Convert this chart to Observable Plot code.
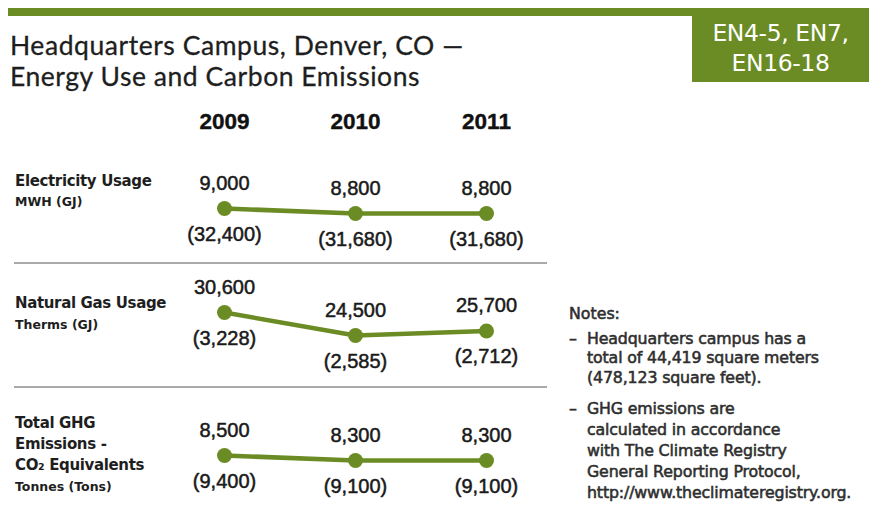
<!DOCTYPE html>
<html><head><meta charset="utf-8">
<script src="https://cdn.jsdelivr.net/npm/d3@7"></script>
<script src="https://cdn.jsdelivr.net/npm/@observablehq/plot@0.6"></script>
<style>
body{margin:0;background:#fff;}
#root{position:relative;width:869px;height:506px;overflow:hidden;font-family:Lato,"Noto Sans",sans-serif;color:#222;}
.abs{position:absolute;white-space:nowrap;}
.plot{position:absolute;left:0;}
.plot svg{overflow:visible;background:transparent;}
</style></head><body><div id="root"></div>
<script>
// ---- data ----
const years = [2009, 2010, 2011];
const rowLabels = [["Electricity Usage"], ["Natural Gas Usage"], ["Total GHG", "Emissions -", "CO₂ Equivalents"]];
const rowUnits = ["MWH (GJ)", "Therms (GJ)", "Tonnes (Tons)"];
const electricityMWH = [9000, 8800, 8800];
const electricityGJ = [32400, 31680, 31680];
const gasTherms = [30600, 24500, 25700];
const gasGJ = [3228, 2585, 2712];
const ghgTonnes = [8500, 8300, 8300];
const ghgTons = [9400, 9100, 9100];
const titleLines = ["Headquarters Campus, Denver, CO —", "Energy Use and Carbon Emissions"];
const badgeLines = ["EN4-5, EN7,", "EN16-18"];
const notesHeading = "Notes:";
const notes = [
  ["Headquarters campus has a", "total of 44,419 square meters", "(478,123 square feet)."],
  ["GHG emissions are", "calculated in accordance", "with The Climate Registry", "General Reporting Protocol,", "http://www.theclimateregistry.org."]
];

// ---- style / layout ----
const GREEN = "#6b8c24";
const root = document.getElementById("root");
function add(html, css) {
  const d = document.createElement("div");
  d.className = "abs";
  d.style.cssText = css;
  d.innerHTML = html;
  root.appendChild(d);
  return d;
}
// top bar and badge
add("", `left:8px;top:8px;right:0;height:8px;background:${GREEN};`);
add("", `left:692px;top:8px;width:177px;height:74px;background:${GREEN};`);
badgeLines.forEach((t, i) => add(t, `left:692px;width:177px;top:${18 + i * 30}px;height:30px;line-height:30px;text-align:center;color:#fff;font-family:'DejaVu Sans',sans-serif;font-size:23.5px;letter-spacing:-0.4px;`));
// title
titleLines.forEach((t, i) => add(t, `left:10px;top:${31 + i * 31}px;font-size:26.5px;line-height:28px;color:#1e1e1e;letter-spacing:0.55px;-webkit-text-stroke:0.3px #1e1e1e;`));

// separators
add("", `left:14px;top:262px;width:533px;height:2px;background:#a9a9a9;`);
add("", `left:14px;top:386px;width:533px;height:2px;background:#a9a9a9;`);

// row labels
const labelPos = [
  {lines: [181], unit: 202},
  {lines: [303], unit: 325},
  {lines: [423, 444, 465], unit: 487}
];
const labelFont = "font-family:'DejaVu Sans',sans-serif;font-weight:700;color:#1e1e1e;";
rowLabels.forEach((lines, i) => {
  lines.forEach((t, j) => add(t, `left:15px;top:${labelPos[i].lines[j] - 10}px;line-height:20px;font-size:15px;letter-spacing:-0.35px;${labelFont}`));
  add(rowUnits[i], `left:15px;top:${labelPos[i].unit - 8}px;line-height:16px;font-size:12.5px;letter-spacing:0px;${labelFont}`);
});

// notes
const notesFont = "font-family:'DejaVu Sans',sans-serif;color:#2e2e2e;font-size:15.8px;-webkit-text-stroke:0.55px #2e2e2e;";
add(notesHeading, `left:569px;top:304px;line-height:19px;${notesFont}`);
const noteTops = [329, 399];
const noteStep = [19.3, 21];
notes.forEach((lines, i) => {
  add("–", `left:569px;top:${noteTops[i]}px;line-height:19px;${notesFont}`);
  lines.forEach((t, j) => add(t, `left:587px;top:${noteTops[i] + j * noteStep[i]}px;line-height:19px;letter-spacing:-0.15px;${notesFont}`));
});

// ---- plots ----
const fmt = d3.format(",");
function rowPlot(values, sub, opts) {
  const data = years.map((year, i) => ({year, value: values[i], sub: sub[i]}));
  const numStyle = {fontSize: 20, fill: "#1a1a1a", stroke: "#1a1a1a", strokeWidth: 0.5, lineAnchor: "middle"};
  const marks = [
    Plot.line(data, {x: "year", y: "value", stroke: GREEN, strokeWidth: 4.5}),
    Plot.dot(data, {x: "year", y: "value", r: 7.5, fill: GREEN}),
    Plot.text(data, {x: "year", y: "value", text: d => fmt(d.value), dy: -25, ...numStyle}),
    Plot.text(data, {x: "year", y: "value", text: d => `(${fmt(d.sub)})`, dy: 26, ...numStyle})
  ];
  if (opts.headers) {
    marks.push(Plot.text(years, {x: d => d, text: d => String(d), frameAnchor: "top", dy: opts.headerDy, fontSize: 22.5, fontWeight: "bold", fill: "#111", stroke: "#111", strokeWidth: 0.4, lineAnchor: "middle"}));
  }
  const svg = Plot.plot({
    width: 560, height: opts.height,
    marginLeft: 223, marginRight: 74, marginTop: opts.marginTop, marginBottom: opts.marginBottom,
    x: {type: "point", domain: years, padding: 0, axis: null},
    y: {domain: d3.extent(values), axis: null},
    style: {fontFamily: "'Liberation Sans', Arial, sans-serif", background: "transparent", overflow: "visible"},
    marks
  });
  const wrap = document.createElement("div");
  wrap.className = "plot";
  wrap.style.top = opts.top + "px";
  wrap.appendChild(svg);
  root.appendChild(wrap);
}
rowPlot(electricityMWH, electricityGJ, {top: 95, height: 168, marginTop: 113, marginBottom: 50, headers: true, headerDy: -87});
rowPlot(gasTherms, gasGJ, {top: 263, height: 125, marginTop: 49, marginBottom: 53});
rowPlot(ghgTonnes, ghgTons, {top: 388, height: 118, marginTop: 67, marginBottom: 46});
</script></body></html>
